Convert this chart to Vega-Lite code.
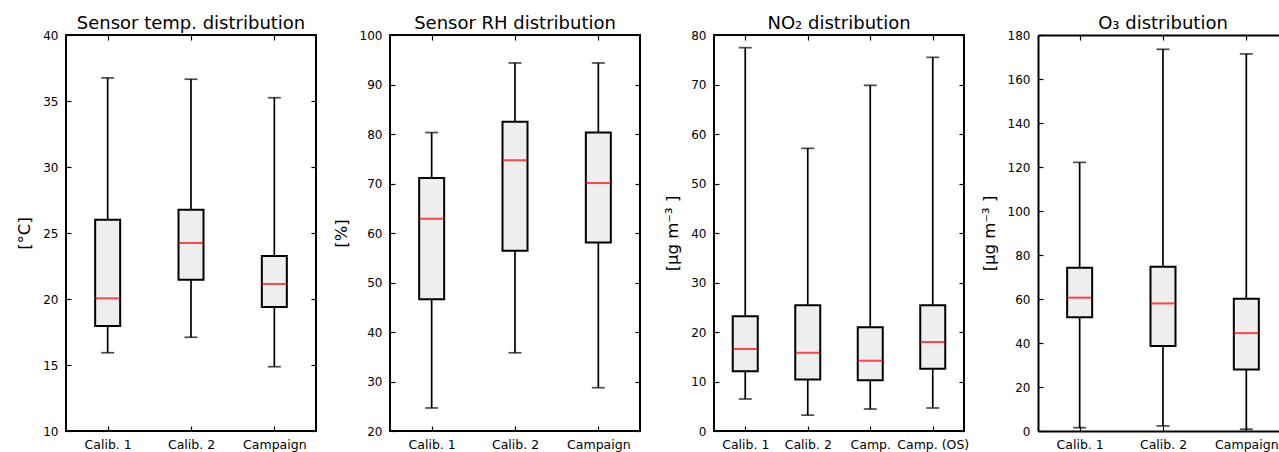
{
  "$schema": "https://vega.github.io/schema/vega-lite/v6.json",
  "padding": {"left": 15, "top": 14, "right": 0, "bottom": 0},
  "background": "white",
  "spacing": 74,
  "bounds": "flush",
  "datasets": {
    "temp": [
      {"cat": "Calib. 1", "min": 15.93, "q1": 17.95, "med": 20.05, "q3": 26.0, "max": 36.75},
      {"cat": "Calib. 2", "min": 17.1, "q1": 21.46, "med": 24.24, "q3": 26.77, "max": 36.65},
      {"cat": "Campaign", "min": 14.87, "q1": 19.4, "med": 21.14, "q3": 23.26, "max": 35.25}
    ],
    "rh": [
      {"cat": "Calib. 1", "min": 24.65, "q1": 46.6, "med": 62.9, "q3": 71.1, "max": 80.3},
      {"cat": "Calib. 2", "min": 35.8, "q1": 56.4, "med": 74.7, "q3": 82.5, "max": 94.35},
      {"cat": "Campaign", "min": 28.75, "q1": 58.1, "med": 70.1, "q3": 80.3, "max": 94.35}
    ],
    "no2": [
      {"cat": "Calib. 1", "min": 6.46, "q1": 12.05, "med": 16.57, "q3": 23.16, "max": 77.44},
      {"cat": "Calib. 2", "min": 3.2, "q1": 10.4, "med": 15.8, "q3": 25.4, "max": 57.1},
      {"cat": "Camp.", "min": 4.44, "q1": 10.24, "med": 14.2, "q3": 20.94, "max": 69.83},
      {"cat": "Camp. (OS)", "min": 4.65, "q1": 12.6, "med": 17.98, "q3": 25.4, "max": 75.49}
    ],
    "o3": [
      {"cat": "Calib. 1", "min": 1.5, "q1": 51.7, "med": 60.6, "q3": 74.2, "max": 122.1},
      {"cat": "Calib. 2", "min": 2.3, "q1": 38.6, "med": 58.0, "q3": 74.7, "max": 173.5},
      {"cat": "Campaign", "min": 0.8, "q1": 28.0, "med": 44.5, "q3": 60.15, "max": 171.4}
    ]
  },
  "hconcat": [
    {
      "width": 250, "height": 396,
      "title": "Sensor temp. distribution",
      "data": {"name": "temp"},
      "layer": [
        {"mark": {"type": "rule", "color": "black", "strokeWidth": 1.7},
         "encoding": {
           "x": {"field": "cat", "type": "nominal", "sort": null, "scale": {"type": "point", "padding": 0.5}, "axis": {"title": null, "labelAngle": 0}},
           "y": {"field": "min", "type": "quantitative", "scale": {"domain": [10, 40], "nice": false, "zero": false}, "axis": {"values": [10, 15, 20, 25, 30, 35, 40], "title": "[°C]"}},
           "y2": {"field": "max"}}},
        {"mark": {"type": "tick", "color": "black", "thickness": 1.7, "size": 13},
         "encoding": {"x": {"field": "cat", "type": "nominal", "sort": null, "axis": null}, "y": {"field": "min", "type": "quantitative", "axis": null}}},
        {"mark": {"type": "tick", "color": "black", "thickness": 1.7, "size": 13},
         "encoding": {"x": {"field": "cat", "type": "nominal", "sort": null, "axis": null}, "y": {"field": "max", "type": "quantitative", "axis": null}}},
        {"mark": {"type": "bar", "fill": "#eeeeee", "stroke": "black", "strokeWidth": 2, "size": 25},
         "encoding": {"x": {"field": "cat", "type": "nominal", "sort": null, "axis": null}, "y": {"field": "q1", "type": "quantitative", "axis": null}, "y2": {"field": "q3"}}},
        {"mark": {"type": "tick", "color": "red", "thickness": 2, "size": 25},
         "encoding": {"x": {"field": "cat", "type": "nominal", "sort": null, "axis": null}, "y": {"field": "med", "type": "quantitative", "axis": null}}},
        {"mark": {"type": "tick", "opacity": 0},
         "encoding": {"x": {"field": "cat", "type": "nominal", "sort": null, "axis": {"orient": "top", "labels": false, "title": null}}, "y": {"field": "med", "type": "quantitative", "axis": {"orient": "right", "labels": false, "title": null, "values": [10, 15, 20, 25, 30, 35, 40]}}}}
      ],
      "resolve": {"axis": {"x": "independent", "y": "independent"}}
    },
    {
      "width": 250, "height": 396,
      "title": "Sensor RH distribution",
      "data": {"name": "rh"},
      "layer": [
        {"mark": {"type": "rule", "color": "black", "strokeWidth": 1.7},
         "encoding": {
           "x": {"field": "cat", "type": "nominal", "sort": null, "scale": {"type": "point", "padding": 0.5}, "axis": {"title": null, "labelAngle": 0}},
           "y": {"field": "min", "type": "quantitative", "scale": {"domain": [20, 100], "nice": false, "zero": false}, "axis": {"values": [20, 30, 40, 50, 60, 70, 80, 90, 100], "title": "[%]"}},
           "y2": {"field": "max"}}},
        {"mark": {"type": "tick", "color": "black", "thickness": 1.7, "size": 13},
         "encoding": {"x": {"field": "cat", "type": "nominal", "sort": null, "axis": null}, "y": {"field": "min", "type": "quantitative", "axis": null}}},
        {"mark": {"type": "tick", "color": "black", "thickness": 1.7, "size": 13},
         "encoding": {"x": {"field": "cat", "type": "nominal", "sort": null, "axis": null}, "y": {"field": "max", "type": "quantitative", "axis": null}}},
        {"mark": {"type": "bar", "fill": "#eeeeee", "stroke": "black", "strokeWidth": 2, "size": 25},
         "encoding": {"x": {"field": "cat", "type": "nominal", "sort": null, "axis": null}, "y": {"field": "q1", "type": "quantitative", "axis": null}, "y2": {"field": "q3"}}},
        {"mark": {"type": "tick", "color": "red", "thickness": 2, "size": 25},
         "encoding": {"x": {"field": "cat", "type": "nominal", "sort": null, "axis": null}, "y": {"field": "med", "type": "quantitative", "axis": null}}},
        {"mark": {"type": "tick", "opacity": 0},
         "encoding": {"x": {"field": "cat", "type": "nominal", "sort": null, "axis": {"orient": "top", "labels": false, "title": null}}, "y": {"field": "med", "type": "quantitative", "axis": {"orient": "right", "labels": false, "title": null, "values": [20, 30, 40, 50, 60, 70, 80, 90, 100]}}}}
      ],
      "resolve": {"axis": {"x": "independent", "y": "independent"}}
    },
    {
      "width": 250, "height": 396,
      "title": "NO₂ distribution",
      "data": {"name": "no2"},
      "layer": [
        {"mark": {"type": "rule", "color": "black", "strokeWidth": 1.7},
         "encoding": {
           "x": {"field": "cat", "type": "nominal", "sort": null, "scale": {"type": "point", "padding": 0.5}, "axis": {"title": null, "labelAngle": 0}},
           "y": {"field": "min", "type": "quantitative", "scale": {"domain": [0, 80], "nice": false, "zero": false}, "axis": {"values": [0, 10, 20, 30, 40, 50, 60, 70, 80], "title": "[µg m⁻³ ]"}},
           "y2": {"field": "max"}}},
        {"mark": {"type": "tick", "color": "black", "thickness": 1.7, "size": 13},
         "encoding": {"x": {"field": "cat", "type": "nominal", "sort": null, "axis": null}, "y": {"field": "min", "type": "quantitative", "axis": null}}},
        {"mark": {"type": "tick", "color": "black", "thickness": 1.7, "size": 13},
         "encoding": {"x": {"field": "cat", "type": "nominal", "sort": null, "axis": null}, "y": {"field": "max", "type": "quantitative", "axis": null}}},
        {"mark": {"type": "bar", "fill": "#eeeeee", "stroke": "black", "strokeWidth": 2, "size": 25},
         "encoding": {"x": {"field": "cat", "type": "nominal", "sort": null, "axis": null}, "y": {"field": "q1", "type": "quantitative", "axis": null}, "y2": {"field": "q3"}}},
        {"mark": {"type": "tick", "color": "red", "thickness": 2, "size": 25},
         "encoding": {"x": {"field": "cat", "type": "nominal", "sort": null, "axis": null}, "y": {"field": "med", "type": "quantitative", "axis": null}}},
        {"mark": {"type": "tick", "opacity": 0},
         "encoding": {"x": {"field": "cat", "type": "nominal", "sort": null, "axis": {"orient": "top", "labels": false, "title": null}}, "y": {"field": "med", "type": "quantitative", "axis": {"orient": "right", "labels": false, "title": null, "values": [0, 10, 20, 30, 40, 50, 60, 70, 80]}}}}
      ],
      "resolve": {"axis": {"x": "independent", "y": "independent"}}
    },
    {
      "width": 242, "height": 396,
      "title": {"text": "O₃ distribution", "dx": 4},
      "view": {"stroke": null},
      "data": {"name": "o3"},
      "layer": [
        {"mark": {"type": "rule", "color": "black", "strokeWidth": 1.7},
         "encoding": {
           "x": {"field": "cat", "type": "nominal", "sort": null, "scale": {"type": "point", "padding": 0.452, "align": 0.553}, "axis": {"title": null, "labelAngle": 0, "domain": true, "domainColor": "black", "domainWidth": 2}},
           "y": {"field": "min", "type": "quantitative", "scale": {"domain": [0, 180], "nice": false, "zero": false}, "axis": {"values": [0, 20, 40, 60, 80, 100, 120, 140, 160, 180], "title": "[µg m⁻³ ]", "domain": true, "domainColor": "black", "domainWidth": 2}},
           "y2": {"field": "max"}}},
        {"mark": {"type": "tick", "color": "black", "thickness": 1.7, "size": 13},
         "encoding": {"x": {"field": "cat", "type": "nominal", "sort": null, "axis": null}, "y": {"field": "min", "type": "quantitative", "axis": null}}},
        {"mark": {"type": "tick", "color": "black", "thickness": 1.7, "size": 13},
         "encoding": {"x": {"field": "cat", "type": "nominal", "sort": null, "axis": null}, "y": {"field": "max", "type": "quantitative", "axis": null}}},
        {"mark": {"type": "bar", "fill": "#eeeeee", "stroke": "black", "strokeWidth": 2, "size": 25},
         "encoding": {"x": {"field": "cat", "type": "nominal", "sort": null, "axis": null}, "y": {"field": "q1", "type": "quantitative", "axis": null}, "y2": {"field": "q3"}}},
        {"mark": {"type": "tick", "color": "red", "thickness": 2, "size": 25},
         "encoding": {"x": {"field": "cat", "type": "nominal", "sort": null, "axis": null}, "y": {"field": "med", "type": "quantitative", "axis": null}}},
        {"mark": {"type": "tick", "opacity": 0},
         "encoding": {"x": {"field": "cat", "type": "nominal", "sort": null, "axis": {"orient": "top", "labels": false, "title": null, "domain": true, "domainColor": "black", "domainWidth": 2}}, "y": {"field": "med", "type": "quantitative", "axis": null}}}
      ],
      "resolve": {"axis": {"x": "independent", "y": "independent"}}
    }
  ],
  "config": {
    "font": "DejaVu Sans",
    "view": {"stroke": "black", "strokeWidth": 2},
    "axis": {
      "domain": false, "grid": false,
      "tickColor": "black", "tickSize": -5, "tickWidth": 1.2,
      "labelColor": "black", "labelFontSize": 12, "labelFont": "DejaVu Sans", "labelPadding": 13,
      "titleFontSize": 16.5, "titleFontWeight": "normal", "titleColor": "black", "titleFont": "DejaVu Sans", "titlePadding": 10
    },
    "axisX": {"labelFontSize": 12.5, "labelPadding": 12},
    "title": {"fontSize": 18, "fontWeight": "normal", "color": "black", "font": "DejaVu Sans", "offset": -4, "baseline": "alphabetic"}
  }
}
